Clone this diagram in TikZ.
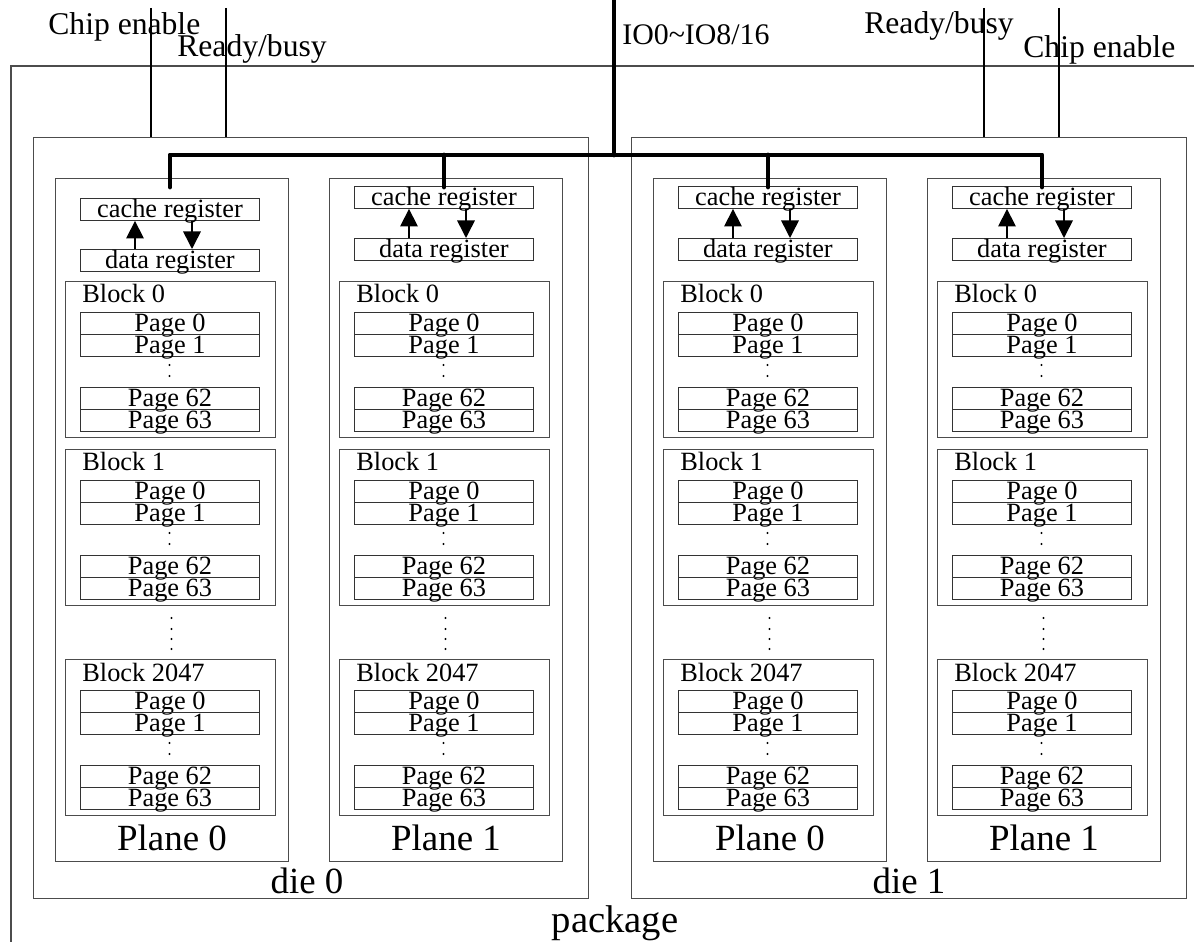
\documentclass[tikz,border=0pt]{standalone}
\usepackage{fontspec}
\setmainfont{Liberation Serif}
\usetikzlibrary{arrows.meta,positioning,calc}
\tikzset{
 outline/.style={draw=black!70,line width=0.6pt,inner sep=0pt,anchor=north west},
 diebox/.style={outline,minimum width=555*0.02cm,minimum height=761*0.02cm},
 planebox/.style={outline,minimum width=233*0.02cm,minimum height=683*0.02cm},
 blockbox/.style={outline,minimum width=210*0.02cm,minimum height=156*0.02cm},
 cellbox/.style={draw=black!80,line width=0.55pt,inner sep=0pt,anchor=north west,
  minimum width=179*0.02cm,text height=10.8pt,text depth=1.7pt,
  font=\fontsize{15}{16}\selectfont},
 blocklabel/.style={anchor=base west,inner sep=0pt,font=\fontsize{15}{16}\selectfont},
 biglabel/.style={anchor=base,inner sep=0pt,font=\fontsize{21}{24}\selectfont},
 siglabel/.style={anchor=base west,inner sep=0pt,font=\fontsize{18}{20}\selectfont},
 sigline/.style={line width=0.6pt},
 busline/.style={line width=2.8pt,line cap=round,line join=round},
 regarr/.style={-{Triangle[length=10pt,width=10pt]},line width=0.9pt}
}
\begin{document}
\begin{tikzpicture}[x=0.02cm,y=-0.02cm]
\useasboundingbox (0,0) rectangle (1194,942);
\clip (0,0) rectangle (1194,942);
\coordinate (pkgbl) at (11,950);
\coordinate (pkgtl) at (11,66);
\coordinate (pkgtr) at (1200,66);
\draw[draw=black!70,line width=0.6pt] (pkgbl) -- (pkgtl) -- (pkgtr);
\node[anchor=base,inner sep=0pt,font=\fontsize{22}{24}\selectfont] (pkglabel) at (615,932) {package};

\node[diebox] (die0) at (33,137) {};
\node[diebox] (die1) at (631,137) {};
\node[biglabel] (dielabel0) at ([shift={(-4,-6)}]die0.south) {die 0};
\node[biglabel] (dielabel1) at ([shift={(0,-6)}]die1.south) {die 1};

\coordinate (ce0) at (151,8);
\coordinate (rb0) at (226,8);
\coordinate (rb1) at (984,8);
\coordinate (ce1) at (1059,8);
\draw[sigline] (ce0) -- (ce0 |- die0.north);
\draw[sigline] (rb0) -- (rb0 |- die0.north);
\draw[sigline] (rb1) -- (rb1 |- die1.north);
\draw[sigline] (ce1) -- (ce1 |- die1.north);
\node[siglabel] (celabel0) at (48,35) {Chip enable};
\node[siglabel] (rblabel0) at (177,57) {Ready/busy};
\node[siglabel] (rblabel1) at (864,34) {Ready/busy};
\node[siglabel] (celabel1) at (1023,58) {Chip enable};
\node[siglabel,font=\fontsize{17}{19}\selectfont] (iolabel) at (622,45) {IO0\textasciitilde IO8/16};

\foreach \pl/\ct/\dt/\lab/\n in {55/198/249/0/a,329/186/238/1/b,653/186/238/0/c,927/186/238/1/d}{
 \node[planebox] (plane\n) at (\pl,178) {};
 \node[biglabel] (planelabel\n) at ([shift={(0,-12)}]plane\n.south) {Plane \lab};
 \node[cellbox] (cache\n) at (\pl+25,\ct) {cache register};
 \node[cellbox] (data\n) at (\pl+25,\dt) {data register};
 \draw[regarr] ($(data\n.north west)+(55,0)$) -- ($(cache\n.south west)+(55,0)$);
 \draw[regarr] ($(cache\n.south west)+(112,0)$) -- ($(data\n.north west)+(112,0)$);
 \coordinate (tap\n) at (cache\n.north |- 0,187);
 \foreach \bt/\bl/\bn in {281/0/A,449/1/B,659/2047/C}{
  \node[blockbox] (blk\n\bn) at (\pl+10,\bt) {};
  \node[blocklabel] (blklabel\n\bn) at ([shift={(17,22)}]blk\n\bn.north west) {Block \bl};
  \foreach \po/\pg in {31/0,53/1,106/62,128/63}
   \node[cellbox] (page\n\bn\pg) at ([shift={(15,\po)}]blk\n\bn.north west) {Page \pg};
  \fill ([shift={(104.5,84)}]blk\n\bn.north west) circle[radius=0.7pt];
  \fill ([shift={(104.5,95)}]blk\n\bn.north west) circle[radius=0.7pt];
 }
 \foreach \dy in {618,629,639,649}
  \fill (\pl+116.5,\dy) circle[radius=0.7pt];
}

\coordinate (iotop) at (614,-5);
\coordinate (bus) at (614,155);
\draw[busline] (iotop) -- (bus);
\draw[busline] (tapa) |- (bus) -| (tapd);
\draw[busline] (tapb |- bus) -- (tapb);
\draw[busline] (tapc |- bus) -- (tapc);
\end{tikzpicture}
\end{document}
